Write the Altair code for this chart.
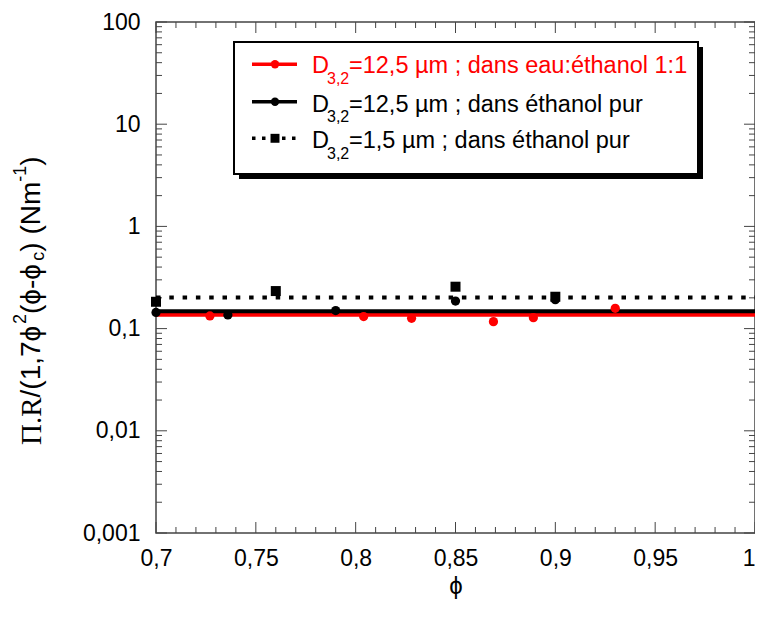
import altair as alt
import pandas as pd

# ---------------- data ----------------
red_phi = [0.727, 0.804, 0.828, 0.869, 0.889, 0.930]
red_val = [0.133, 0.131, 0.126, 0.117, 0.128, 0.158]
blk_phi = [0.700, 0.736, 0.790, 0.850, 0.900]
blk_val = [0.144, 0.136, 0.150, 0.186, 0.192]
sq_phi = [0.700, 0.760, 0.850, 0.900]
sq_val = [0.183, 0.233, 0.257, 0.205]
fit_red = [0.137]
fit_blk = [0.148]
fit_sq = [0.202]

x_major = [0.7, 0.75, 0.8, 0.85, 0.9, 0.95, 1.0]
x_minor = [0.71, 0.72, 0.73, 0.74, 0.76, 0.77, 0.78, 0.79, 0.81, 0.82, 0.83, 0.84,
           0.86, 0.87, 0.88, 0.89, 0.91, 0.92, 0.93, 0.94, 0.96, 0.97, 0.98, 0.99]
y_major = [0.001, 0.01, 0.1, 1, 10, 100]
y_minor = [m * d for d in [0.001, 0.01, 0.1, 1, 10] for m in [2, 3, 4, 5, 6, 7, 8, 9]]

legend_labels = ["=12,5 µm ; dans eau:éthanol 1:1",
                 "=12,5 µm ; dans éthanol pur",
                 "=1,5 µm ; dans éthanol pur"]

# ---------------- layout / style ----------------
W, H = 599, 511
PADL, PADT = 148, 14
GRAY = "#444444"
SANS = "Liberation Sans"
SERIF = "Liberation Serif"
LAB = "replace(format(datum.value, '~g'), '.', ',')"

xs = alt.Scale(domain=[0.7, 1.0], nice=False, zero=False)
ys = alt.Scale(type="log", domain=[0.001, 100], nice=False)

xaxis = alt.Axis(values=x_major, labelExpr=LAB, ticks=False, tickSize=0, domain=False,
                 grid=False, labelFontSize=23, labelFont=SANS, labelColor="black",
                 labelPadding=14, labelFlush=False, labelOverlap=False,
                 labelAlign={"condition": {"test": "datum.value >= 1", "value": "right"}, "value": "center"},
                 title="ϕ", titleFontSize=24, titleFont=SANS, titleFontWeight="normal",
                 titleColor="black", titlePadding=4)
yaxis = alt.Axis(values=y_major, labelExpr=LAB, ticks=False, tickSize=0, domain=False,
                 grid=False, labelFontSize=23, labelFont=SANS, labelColor="black",
                 labelPadding=16, labelFlush=False, labelOverlap=False, title="")


def X():
    return alt.X("phi:Q", scale=xs, axis=xaxis)


def Y():
    return alt.Y("val:Q", scale=ys, axis=yaxis)


one = pd.DataFrame({"k": [0]})
layers = []

# ---- ticks (inward) ----
dxM = pd.DataFrame({"phi": x_major})
dxm = pd.DataFrame({"phi": x_minor})
dyM = pd.DataFrame({"val": y_major})
dym = pd.DataFrame({"val": y_minor})

layers.append(alt.Chart(dxM).mark_rule(color=GRAY).encode(x=X(), y=alt.value(H), y2=alt.value(H - 11)))
layers.append(alt.Chart(dxM).mark_rule(color=GRAY).encode(x=X(), y=alt.value(0), y2=alt.value(11)))
layers.append(alt.Chart(dxm).mark_rule(color=GRAY).encode(x=X(), y=alt.value(H), y2=alt.value(H - 6)))
layers.append(alt.Chart(dxm).mark_rule(color=GRAY).encode(x=X(), y=alt.value(0), y2=alt.value(6)))
layers.append(alt.Chart(dyM).mark_rule(color=GRAY).encode(y=Y(), x=alt.value(0), x2=alt.value(11)))
layers.append(alt.Chart(dyM).mark_rule(color=GRAY).encode(y=Y(), x=alt.value(W), x2=alt.value(W - 11)))
layers.append(alt.Chart(dym).mark_rule(color=GRAY).encode(y=Y(), x=alt.value(0), x2=alt.value(6)))
layers.append(alt.Chart(dym).mark_rule(color=GRAY).encode(y=Y(), x=alt.value(W), x2=alt.value(W - 6)))

# ---- fitted lines ----
layers.append(alt.Chart(pd.DataFrame({"val": fit_red})).mark_rule(color="#ff0000", strokeWidth=4)
              .encode(y=Y(), x=alt.value(0), x2=alt.value(W)))
layers.append(alt.Chart(pd.DataFrame({"val": fit_blk})).mark_rule(color="black", strokeWidth=4)
              .encode(y=Y(), x=alt.value(0), x2=alt.value(W)))
layers.append(alt.Chart(pd.DataFrame({"val": fit_sq})).mark_rule(color="black", strokeWidth=4,
                                                                 strokeDash=[4.5, 8.8])
              .encode(y=Y(), x=alt.value(0), x2=alt.value(W)))

# ---- data points ----
layers.append(alt.Chart(pd.DataFrame({"phi": red_phi, "val": red_val}))
              .mark_point(filled=True, shape="circle", size=85, color="#ff0000", opacity=1)
              .encode(x=X(), y=Y()))
layers.append(alt.Chart(pd.DataFrame({"phi": blk_phi, "val": blk_val}))
              .mark_point(filled=True, shape="circle", size=85, color="black", opacity=1)
              .encode(x=X(), y=Y()))
layers.append(alt.Chart(pd.DataFrame({"phi": sq_phi, "val": sq_val}))
              .mark_point(filled=True, shape="square", size=100, color="black", opacity=1)
              .encode(x=X(), y=Y()))

# ---- legend box ----
BX0, BX1, BY0, BY1 = 78, 542, 20, 152
layers.append(alt.Chart(one).mark_rect(color="black")
              .encode(x=alt.value(BX0 + 5), x2=alt.value(BX1 + 5), y=alt.value(BY0 + 5), y2=alt.value(BY1 + 5)))
layers.append(alt.Chart(one).mark_rect(fill="white", stroke="black", strokeWidth=2)
              .encode(x=alt.value(BX0), x2=alt.value(BX1), y=alt.value(BY0), y2=alt.value(BY1)))

row_line_y = [42.3, 79.7, 116.3]
row_base_y = [51.3, 89.7, 126.3]
row_color = ["#ff0000", "black", "black"]
LX0, LX1, LXM = 96, 141, 119
TX_D, TX_SUB, TX_MAIN = 156, 171, 193

for i in range(3):
    c = row_color[i]
    if i < 2:
        layers.append(alt.Chart(one).mark_rule(color=c, strokeWidth=3.5)
                      .encode(x=alt.value(LX0), x2=alt.value(LX1), y=alt.value(row_line_y[i])))
        layers.append(alt.Chart(one).mark_point(filled=True, shape="circle", size=70, color=c, opacity=1)
                      .encode(x=alt.value(LXM), y=alt.value(row_line_y[i])))
    else:
        layers.append(alt.Chart(one).mark_rule(color=c, strokeWidth=3.5, strokeDash=[3.5, 6.5])
                      .encode(x=alt.value(LX0), x2=alt.value(LX1), y=alt.value(row_line_y[i])))
        layers.append(alt.Chart(one).mark_point(filled=True, shape="square", size=80, color=c, opacity=1)
                      .encode(x=alt.value(LXM), y=alt.value(row_line_y[i])))
    layers.append(alt.Chart(one).mark_text(text="D", font=SANS, fontSize=23.5, align="left",
                                           baseline="alphabetic", color=c)
                  .encode(x=alt.value(TX_D), y=alt.value(row_base_y[i])))
    layers.append(alt.Chart(one).mark_text(text="3,2", font=SANS, fontSize=16, align="left",
                                           baseline="alphabetic", color=c)
                  .encode(x=alt.value(TX_SUB), y=alt.value(row_base_y[i] + 10.5)))
    layers.append(alt.Chart(one).mark_text(text=legend_labels[i], font=SANS, fontSize=23.5, align="left",
                                           baseline="alphabetic", color=c)
                  .encode(x=alt.value(TX_MAIN), y=alt.value(row_base_y[i])))

# ---- y title built from pieces (rotated) ----
CW = {"Π": 0.722, ".": 0.25, "R": 0.667, "/": 0.278, "(": 0.333, ")": 0.333, "1": 0.556,
      ",": 0.278, "7": 0.556, "ϕ": 0.62, "2": 0.556, "-": 0.333, " ": 0.278, "N": 0.722,
      "m": 0.833, "c": 0.5}
FT, FS = 28, 18
pieces = [("Π.R", FT + 1, 0, SERIF), ("/(1,7ϕ", FT, 0, SANS), ("2", FS, -11, SANS),
          ("(ϕ-ϕ", FT, 0, SANS), ("c", FS, 7, SANS), (") (Nm", FT, 0, SANS),
          ("-1", FS, -11, SANS), (")", FT, 0, SANS)]
TY0, TX0 = 423, -124
pos = TY0
for txt, fs, dx, fnt in pieces:
    layers.append(alt.Chart(one).mark_text(text=txt, font=fnt, fontSize=fs, angle=270, align="left",
                                           baseline="middle", color="black")
                  .encode(x=alt.value(TX0 + dx), y=alt.value(pos)))
    pos -= sum(CW.get(ch, 0.6) for ch in txt) * fs

chart = (alt.layer(*layers)
         .properties(width=W, height=H, autosize=alt.AutoSizeParams(type="none"),
                     padding={"left": PADL, "top": PADT, "right": 0, "bottom": 72},
                     background="white")
         .configure_view(stroke=GRAY, strokeWidth=1.5))

chart.save("out.html", embed_options={"renderer": "svg", "actions": False})
